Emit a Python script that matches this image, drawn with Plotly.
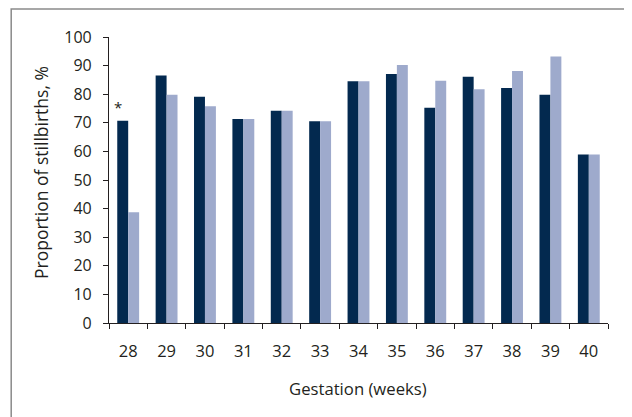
import plotly.graph_objects as go

weeks = ["28", "29", "30", "31", "32", "33", "34", "35", "36", "37", "38", "39", "40"]
series_dark = [70.7, 86.5, 79.1, 71.3, 74.2, 70.5, 84.5, 87.1, 75.3, 86.1, 82.2, 79.8, 58.9]
series_light = [38.7, 79.8, 75.8, 71.3, 74.2, 70.5, 84.5, 90.2, 84.7, 81.7, 88.1, 93.2, 58.9]
y_ticks = [0, 10, 20, 30, 40, 50, 60, 70, 80, 90, 100]

FONT = "Open Sans"
TXT = "#231f20"

fig = go.Figure()
fig.add_trace(go.Bar(x=weeks, y=series_dark, marker=dict(color="#03294f", line=dict(width=0)), showlegend=False))
fig.add_trace(go.Bar(x=weeks, y=series_light, marker=dict(color="#9eaacc", line=dict(width=0)), showlegend=False))

fig.update_layout(
    width=624, height=409,
    margin=dict(l=101, r=24, t=29, b=94),
    paper_bgcolor="white", plot_bgcolor="white",
    barmode="group", bargap=0.43, bargroupgap=0,
    font=dict(family=FONT, size=16, color=TXT),
    xaxis=dict(
        type="category", range=[-0.5, len(weeks) - 0.5], tickson="boundaries", ticks="outside", ticklen=5,
        tickcolor="#231f20", tickwidth=1.2, showline=True, linecolor="#231f20", linewidth=1.2,
        showgrid=False, ticklabelstandoff=13, tickangle=0, tickfont=dict(size=16.5),
    ),
    yaxis=dict(
        range=[0, 100], tickvals=y_ticks, ticks="outside", ticklen=5,
        tickcolor="#231f20", tickwidth=1.2, showline=True, linecolor="#231f20", linewidth=1.2,
        showgrid=False, zeroline=False, ticklabelstandoff=8, tickfont=dict(size=16),
    ),
    shapes=[dict(type="rect", xref="paper", yref="paper", x0=-0.196, x1=1.1, y0=-0.4, y1=1.098,
                 line=dict(color="#8a8a8a", width=1.5), fillcolor="rgba(0,0,0,0)", layer="below")],
    annotations=[
        dict(text="Gestation (weeks)", xref="paper", yref="paper", x=(358 - 109) / 499, y=(323 - 388) / 286,
             showarrow=False, xanchor="center", yanchor="middle", font=dict(size=16.7)),
        dict(text="Proportion of stillbirths, %", xref="paper", yref="paper", x=(41 - 109) / 499,
             y=(323 - 173) / 286, textangle=-90, showarrow=False, xanchor="center", yanchor="middle",
             font=dict(size=17.5)),
        dict(text="*", x=0, y=series_dark[0], xref="x", yref="y", xshift=-10, yshift=2,
             showarrow=False, yanchor="bottom", font=dict(size=15)),
    ],
)

fig.write_html("out.html")
